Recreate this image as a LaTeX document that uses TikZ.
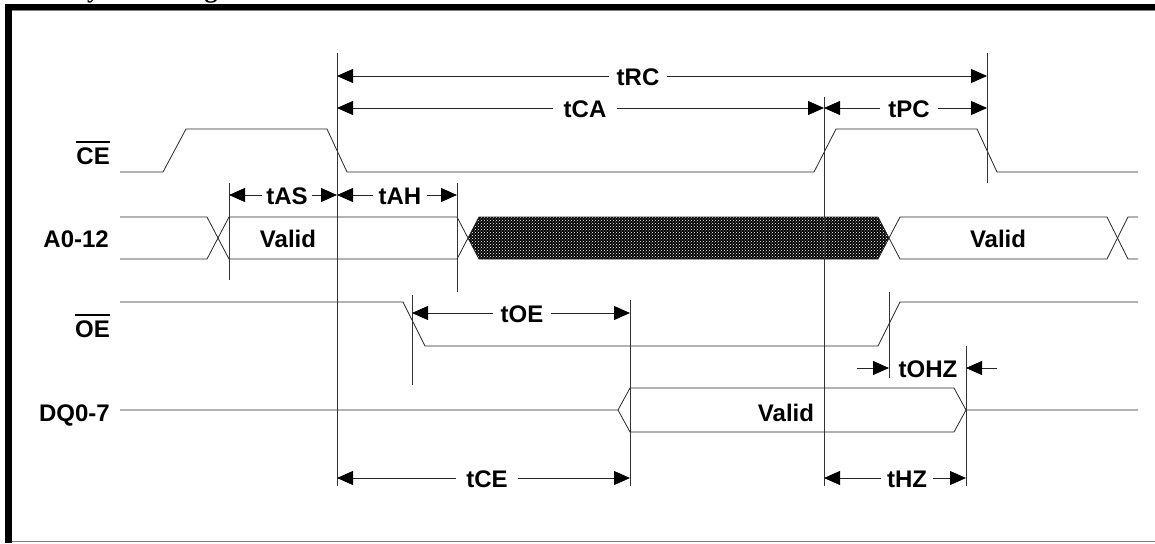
\documentclass[tikz,border=0pt]{standalone}
\usepackage{fontspec}
\setmainfont{Liberation Serif}
\newfontfamily\arialf{Liberation Sans}
\usetikzlibrary{arrows.meta,patterns}
\newcommand\myovl[1]{\mbox{\vbox{\hrule height 1.8pt\kern 4.5pt\hbox{#1}}}}
\tikzset{
  wave/.style={line width=0.8pt, black!85},
  guide/.style={line width=0.8pt, black!80},
  dimarr/.style={line width=0.8pt, black!85,
     {Triangle[length=16pt,width=14pt,black]}-{Triangle[length=16pt,width=14pt,black]}},
  onearr/.style={line width=0.8pt, black!85, -{Triangle[length=16pt,width=14pt,black]}},
  lbl/.style={font=\arialf\bfseries\fontsize{24}{28}\selectfont, fill=white, inner xsep=8pt, inner ysep=1pt, anchor=base},
  plainlbl/.style={font=\arialf\bfseries\fontsize{24}{28}\selectfont, inner sep=0pt, anchor=base},
  sig/.style={font=\arialf\bfseries\fontsize{24}{28}\selectfont, inner sep=0pt, anchor=base east},
}
\begin{document}
\begin{tikzpicture}[x=1pt,y=-1pt]
\useasboundingbox (0,0) rectangle (1155,543);
% frame and cut-off title
\node[anchor=base west, inner sep=0pt, font=\bfseries\fontsize{26}{30}\selectfont] (title) at (4,-2.7) {Read Cycle Timing};
\fill[black] (5,4) rectangle (1155,10);
\fill[black] (5,4) rectangle (12,543);
\draw[black!50, line width=0.8pt] (12,10.6) -- (1155,10.6);
\draw[black!50, line width=1pt] (12,541.5) -- (1155,541.5);

% signal names
\node[sig] (lCE) at (110,164) {\myovl{CE}};
\node[sig] (lA) at (109,247) {A0-12};
\node[sig] (lOE) at (110,337) {\myovl{OE}};
\node[sig] (lDQ) at (110,421) {DQ0-7};

% hatched (don't care) region
\fill[black] (468,238) -- (479,217) -- (878,217) -- (889,238) -- (878,259) -- (479,259) -- cycle;
\fill[pattern=crosshatch dots, pattern color=white] (468,238) -- (479,217) -- (878,217) -- (889,238) -- (878,259) -- (479,259) -- cycle;

% waveforms
\draw[wave] (120,172) -- (163,172) -- (186,129) -- (327,129) -- (347,172) -- (814,172) -- (836,129) -- (977,129) -- (997,172) -- (1138,172);
\draw[wave] (120,217) -- (207,217) -- (229,259) -- (457,259) -- (479,217) -- (878,217) -- (900,259) -- (1107,259) -- (1128,217) -- (1138,217);
\draw[wave] (120,259) -- (207,259) -- (229,217) -- (457,217) -- (479,259) -- (878,259) -- (900,217) -- (1107,217) -- (1128,259) -- (1138,259);
\draw[wave] (120,302) -- (403,302) -- (425,346) -- (878,346) -- (900,302) -- (1138,302);
\draw[wave] (120,410) -- (618,410) -- (630,388) -- (954,388) -- (966,410) -- (1138,410);
\draw[wave] (618,410) -- (630,432) -- (954,432) -- (966,410);

% data labels
\node[plainlbl] (vA1) at (288,247) {Valid};
\node[plainlbl] (vA2) at (998,247) {Valid};
\node[plainlbl] (vDQ) at (786,421) {Valid};

% guide lines
\coordinate (v1t) at (337,53);  \coordinate (v1b) at (337,486);
\coordinate (v2t) at (824,97);  \coordinate (v2b) at (824,486);
\coordinate (v3t) at (987,53);  \coordinate (v3b) at (987,183);
\coordinate (v4t) at (229,183); \coordinate (v4b) at (229,280);
\coordinate (v5t) at (457,183); \coordinate (v5b) at (457,292);
\coordinate (v6t) at (412,295); \coordinate (v6b) at (412,385);
\coordinate (v7t) at (630,300); \coordinate (v7b) at (630,486);
\coordinate (v8t) at (889,292); \coordinate (v8b) at (889,378);
\coordinate (v9t) at (966,346); \coordinate (v9b) at (966,486);
\foreach \i in {1,...,9} { \draw[guide] (v\i t) -- (v\i b); }

% dimension rows
\coordinate (yRC) at (0,76);
\coordinate (yCA) at (0,108);
\coordinate (yAS) at (0,195);
\coordinate (yOE) at (0,313);
\coordinate (yOHZ) at (0,368);
\coordinate (yCE) at (0,478);
\coordinate (oL) at (857,368);
\coordinate (oR) at (997,368);

\draw[dimarr] (v1t |- yRC) -- (v3t |- yRC);
\node[lbl] (tRC) at (638,85) {tRC};
\draw[dimarr] (v1t |- yCA) -- (v2t |- yCA);
\node[lbl, inner xsep=11pt] (tCA) at (585,117) {tCA};
\draw[dimarr] (v2t |- yCA) -- (v3t |- yCA);
\node[lbl] (tPC) at (909,117) {tPC};
\draw[dimarr] (v4t |- yAS) -- (v1t |- yAS);
\node[lbl, inner xsep=4pt] (tAS) at (287,204) {tAS};
\draw[dimarr] (v1t |- yAS) -- (v5t |- yAS);
\node[lbl, inner xsep=6pt] (tAH) at (400,204) {tAH};
\draw[dimarr] (v6t |- yOE) -- (v7t |- yOE);
\node[lbl] (tOE) at (522,322) {tOE};
\draw[onearr] (oL) -- (v8t |- yOHZ);
\draw[onearr] (oR) -- (v9t |- yOHZ);
\node[plainlbl] (tOHZ) at (928,377) {tOHZ};
\draw[dimarr] (v1t |- yCE) -- (v7t |- yCE);
\node[lbl, inner xsep=10pt] (tCE) at (487,487) {tCE};
\draw[dimarr] (v2t |- yCE) -- (v9t |- yCE);
\node[lbl, inner xsep=6pt] (tHZ) at (907,487) {tHZ};
\end{tikzpicture}
\end{document}
